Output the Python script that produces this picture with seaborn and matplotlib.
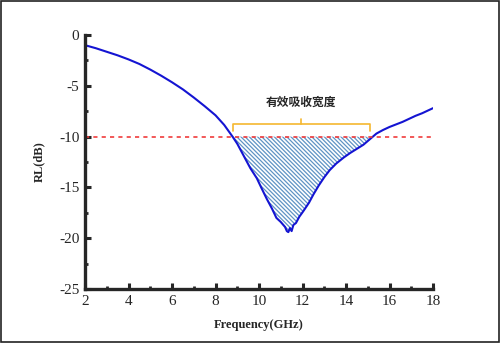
import matplotlib
matplotlib.use("Agg")
import matplotlib.pyplot as plt
import seaborn as sns
import pandas as pd
import numpy as np
from matplotlib.patches import Rectangle
from matplotlib.ticker import MultipleLocator

freq = [2.0, 2.5, 3.0, 3.5, 4.0, 4.5, 5.0, 5.5, 6.0, 6.5, 7.0, 7.5, 8.0, 8.4,
        8.8, 9.0, 9.3, 9.6, 9.9, 10.1, 10.35, 10.6, 10.8, 11.0, 11.2, 11.28,
        11.35, 11.42, 11.5, 11.58, 11.7, 11.85, 12.05, 12.3, 12.5, 12.75, 13.0,
        13.25, 13.55, 13.9, 14.2, 14.5, 14.8, 15.1, 15.4, 15.7, 16.0, 16.3, 16.6,
        16.9, 17.2, 17.5, 17.8, 18.0]
rl = [-1.0, -1.3, -1.65, -2.0, -2.4, -2.85, -3.4, -4.0, -4.65, -5.35, -6.15,
      -7.0, -7.9, -8.85, -10.05, -10.7, -11.9, -13.1, -14.1, -15.0, -16.1, -17.1,
      -18.0, -18.4, -18.9, -19.3, -19.4, -19.0, -19.3, -18.7, -18.5, -17.9,
      -17.3, -16.5, -15.7, -14.8, -14.0, -13.3, -12.65, -12.05, -11.6, -11.2,
      -10.8, -10.25, -9.7, -9.35, -9.05, -8.8, -8.55, -8.25, -7.95, -7.7, -7.4,
      -7.2]
threshold = -10
band_start, band_end = 8.8, 15.1
bracket_y = -8.8
band_label = "有效吸收宽度"
xlabel = "Frequency(GHz)"
ylabel = "RL(dB)"

sns.set_style("ticks")
plt.rcParams['font.family'] = ['Liberation Serif', 'DejaVu Serif']
plt.rcParams['axes.unicode_minus'] = False
plt.rcParams['hatch.linewidth'] = 0.9

fig = plt.figure(figsize=(5.0, 3.43), dpi=100)
ax = fig.add_axes([0.17, 0.1574, 0.696, 0.7405])
fig.patches.append(Rectangle((0.002, 0.003), 0.996, 0.994, transform=fig.transFigure,
                             fill=False, edgecolor='#222222', linewidth=1.2))

df = pd.DataFrame({"freq": freq, "rl": rl})
x = np.array(freq); y = np.array(rl)
ax.fill_between(x, y, threshold, where=y <= threshold, interpolate=True,
                facecolor='white', hatch='\\' * 8, edgecolor='#5f93c4', linewidth=0)
sns.lineplot(data=df, x="freq", y="rl", ax=ax, color='#1414d2', linewidth=1.5)
ax.axhline(threshold, color='#f03c3c', linestyle=(0, (2.5, 2.5)), linewidth=1.2)

# bracket
bc = '#f5b830'
ax.plot([band_start, band_start, band_end, band_end],
        [bracket_y - 0.6, bracket_y, bracket_y, bracket_y - 0.6], color=bc, linewidth=1.2)
mid = (band_start + band_end) / 2
ax.plot([mid, mid], [bracket_y, bracket_y + 0.5], color=bc, linewidth=1.2)
ax.text(mid, bracket_y + 1.5, band_label, ha='center', va='bottom', fontsize=8.5,
        fontweight='bold', family=['Noto Sans CJK SC', 'DejaVu Sans'])

ax.set_xlim(2, 18)
ax.set_ylim(-25, 0)
ax.xaxis.set_major_locator(MultipleLocator(2))
ax.xaxis.set_minor_locator(MultipleLocator(1))
ax.yaxis.set_major_locator(MultipleLocator(5))
ax.yaxis.set_minor_locator(MultipleLocator(2.5))
ax.tick_params(which='major', direction='in', length=4, width=2.2, labelsize=11, pad=4)
ax.tick_params(which='minor', direction='in', length=2.5, width=2.0)
for s in ['top', 'right']:
    ax.spines[s].set_visible(False)
for s in ['left', 'bottom']:
    ax.spines[s].set_linewidth(2.4)
ax.set_xlabel(xlabel, fontsize=9, fontweight='bold', labelpad=8)
ax.set_ylabel(ylabel, fontsize=9, fontweight='bold', labelpad=10)
fig.savefig("out.png", dpi=100)
